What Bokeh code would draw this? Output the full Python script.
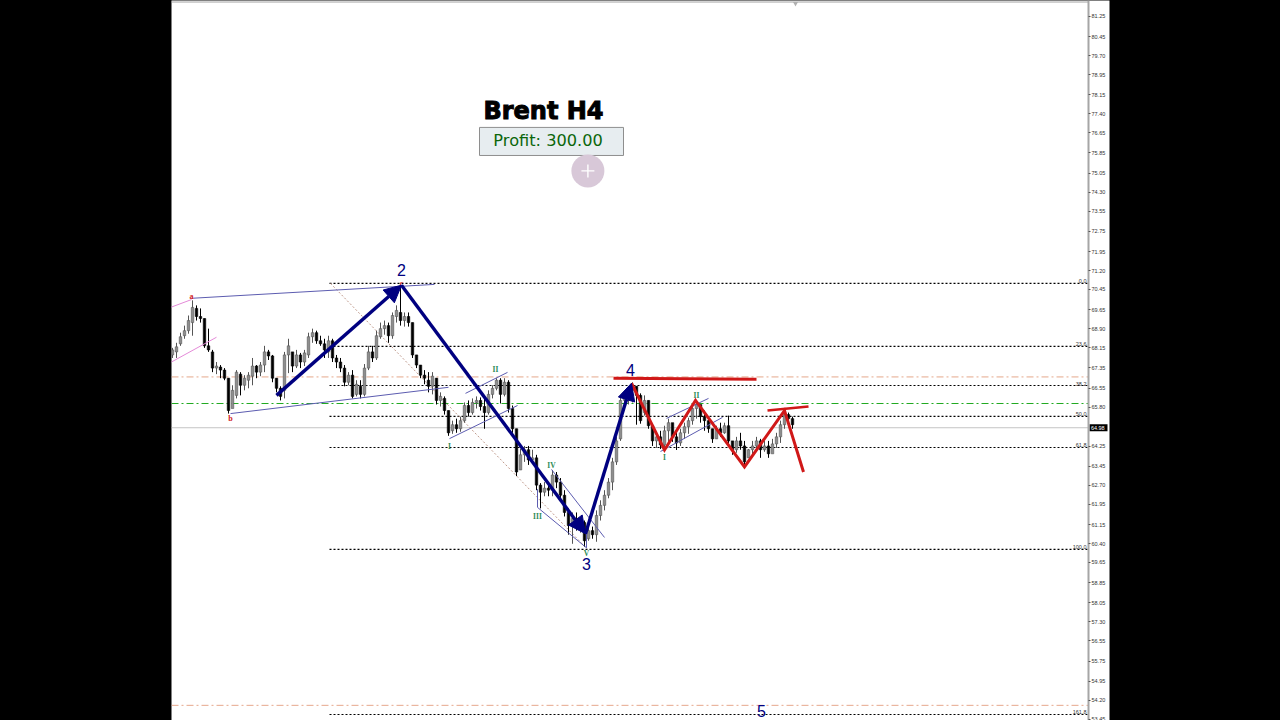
from bokeh.plotting import figure
from bokeh.layouts import row
from bokeh.models import (Range1d, FixedTicker, NumeralTickFormatter, Arrow, NormalHead,
                          Spacer, GlobalInlineStyleSheet, ColumnDataSource)
from bokeh.core.properties import value
from bokeh.embed import file_html
from bokeh.resources import INLINE

high = [68.14,68.34,68.74,69.02,69.42,70.02,69.82,69.70,69.30,68.90,
68.06,67.58,67.46,67.34,66.94,66.66,67.26,67.18,67.06,67.18,
67.74,67.46,67.58,68.22,68.06,67.86,66.94,66.62,67.98,68.50,
67.86,68.06,67.94,68.06,68.74,68.90,68.82,68.62,68.50,68.62,
68.50,67.86,67.74,67.46,67.18,67.26,66.86,66.86,67.50,68.22,
68.22,68.82,69.14,69.22,69.14,69.54,69.82,70.62,69.54,69.54,
69.14,67.86,67.46,67.26,67.18,67.18,66.94,66.38,66.22,65.66,
65.26,65.34,65.42,65.98,66.06,66.14,66.22,66.18,66.14,66.46,
66.66,66.94,66.94,66.94,66.86,65.86,64.94,64.14,64.26,64.26,
64.11,63.91,62.79,62.83,62.75,63.31,63.23,62.99,62.51,61.79,
61.63,61.63,61.39,61.31,61.11,61.07,61.71,62.11,62.51,62.99,
63.79,64.62,66.26,66.38,66.62,66.78,66.62,66.34,66.26,66.06,
65.14,64.78,64.86,65.06,65.34,65.06,64.86,64.94,65.18,65.38,
65.86,66.06,65.86,65.66,65.34,64.94,65.06,65.18,65.18,65.46,
64.38,64.62,64.78,64.46,64.14,64.46,64.62,64.54,64.46,64.46,
64.54,64.78,65.26,65.66,65.58,65.42]
low = [67.74,67.74,68.22,68.50,68.70,68.62,69.22,69.14,68.14,67.98,
67.18,67.10,66.94,66.86,65.54,66.06,66.14,66.26,66.46,66.54,
66.66,66.94,67.02,67.18,67.66,66.78,66.38,66.06,66.14,67.14,
67.18,67.34,67.34,67.42,67.74,68.34,68.30,68.22,67.74,67.74,
67.58,67.34,67.18,66.62,66.66,66.14,66.22,66.14,66.22,67.26,
67.58,67.66,68.50,68.66,68.34,68.50,69.14,69.02,68.98,68.98,
67.74,67.34,66.94,66.70,66.38,66.30,65.90,65.82,65.50,64.66,
64.74,64.78,64.82,65.18,65.42,65.50,65.74,65.66,64.94,65.50,
66.14,66.46,65.94,66.22,65.58,64.78,63.07,63.31,63.63,63.51,
63.55,62.51,61.79,62.27,62.27,62.27,62.59,62.19,61.47,60.75,
60.39,60.91,60.83,60.27,60.51,60.59,60.47,61.31,61.71,62.19,
62.51,63.51,64.46,65.74,65.90,65.98,65.10,65.14,65.46,64.94,
64.26,64.18,64.14,64.22,64.34,64.42,64.10,64.26,64.54,64.74,
65.10,65.34,65.18,64.86,64.78,64.38,64.54,64.62,64.74,64.30,
63.91,63.99,64.11,63.39,63.79,63.91,64.03,63.79,64.03,63.79,
64.11,64.18,64.38,64.94,65.18,64.94]
open_ = [67.86,67.98,68.30,68.62,68.82,69.14,69.70,69.38,69.30,68.22,
67.98,67.34,67.38,67.26,66.94,65.74,66.26,67.10,66.66,66.86,
67.02,67.42,67.18,67.46,67.98,67.82,66.94,66.54,66.46,67.86,
67.98,67.42,67.86,67.58,67.86,68.58,68.74,68.42,68.30,67.98,
68.42,67.74,67.58,67.34,66.78,67.06,66.30,66.62,66.30,67.34,
67.98,67.74,68.58,68.90,69.02,68.62,69.38,69.54,69.22,69.38,
69.14,67.86,67.46,67.06,66.86,66.62,66.94,66.06,66.14,65.66,
64.86,65.10,64.94,65.26,65.86,65.58,65.98,66.06,65.82,65.58,
66.30,66.54,66.86,66.30,66.78,65.74,64.94,63.31,63.91,64.11,
63.71,63.79,62.71,62.43,62.59,62.51,63.11,62.83,62.31,61.63,
61.11,61.39,61.11,61.23,60.59,60.91,60.75,61.51,61.91,62.31,
62.83,63.63,64.54,66.06,66.22,66.46,66.62,66.26,65.58,66.06,
65.06,64.46,64.62,64.30,64.86,65.18,64.62,64.38,64.78,65.02,
65.26,65.74,65.90,65.42,65.26,64.94,64.54,64.94,64.78,65.06,
64.46,64.11,64.46,64.26,63.79,64.11,64.26,64.46,64.11,64.26,
63.95,64.34,64.62,65.10,65.50,65.34]
close = [68.06,68.18,68.58,68.82,69.22,69.74,69.38,69.30,68.22,68.06,
67.34,67.42,67.26,66.94,65.66,66.46,67.18,66.66,66.94,67.06,
67.42,67.18,67.46,67.98,67.82,66.94,66.54,66.22,67.86,68.22,
67.42,67.86,67.58,67.94,68.58,68.74,68.42,68.30,68.06,68.42,
67.74,67.58,67.34,66.78,67.06,66.22,66.70,66.30,67.34,67.98,
67.74,68.62,68.90,69.02,68.62,69.42,69.62,69.22,69.38,69.14,
67.86,67.46,67.06,66.94,66.62,67.02,66.06,66.22,65.66,64.78,
65.10,64.94,65.26,65.86,65.58,65.98,66.06,65.82,65.58,66.30,
66.54,66.86,66.30,66.78,65.74,64.94,63.23,63.91,64.11,63.71,
63.79,62.71,62.43,62.59,62.51,63.11,62.83,62.31,61.63,61.11,
61.39,61.11,61.23,60.51,60.91,60.75,61.51,61.91,62.31,62.83,
63.63,64.46,66.06,66.22,66.46,66.62,66.26,65.26,66.06,65.06,
64.46,64.62,64.30,64.86,65.18,64.62,64.38,64.78,65.02,65.26,
65.74,65.90,65.42,65.26,64.94,64.54,64.94,64.78,65.06,64.46,
64.11,64.46,64.26,63.63,64.11,64.26,64.46,64.11,64.26,63.95,
64.34,64.62,65.10,65.50,65.34,65.10]
bars = list(range(len(close)))

price_ticks = [81.25,80.45,79.70,78.95,78.15,77.40,76.65,75.85,75.05,74.30,73.55,72.75,
               71.95,71.20,70.45,69.65,68.90,68.15,67.35,66.55,65.80,64.25,63.45,62.70,
               61.95,61.15,60.40,59.65,58.85,58.05,57.30,56.55,55.75,54.95,54.20,53.45]
last_price = 64.98

fib_names = ["0.0","23.6","38.2","50.0","61.8","100.0","161.8"]
fib_prices = [70.69,68.20,66.65,65.43,64.20,60.17,53.64]
fib_start = 39.25
orange_levels = [66.99,54.00]
green_level = 65.94
frame_top = 81.82

wave_x = [26.0,57.25,103.25,114.75]
wave_y = [66.26,70.62,60.79,66.74]
wave_names = ["2","3","4","5"]
wave_name_x = [57.25,103.5,114.5,147.25]
wave_name_y = [71.22,59.60,67.27,53.76]

red_x = [114.75,123.0,130.75,143.0,153.0,157.75]
red_y = [66.74,64.10,66.06,63.43,65.66,63.23]
resist_x = [110.25,146.0]
resist_y = [66.94,66.90]
short_x = [148.75,159.0]
short_y = [65.66,65.82]

channels = [
    ([4.75,65.5],[70.10,70.65]),
    ([14.5,69.0],[65.54,66.58]),
    ([69.25,86.25],[64.55,65.86]),
    ([73.25,83.75],[66.34,67.17]),
    ([91.25,103.5],[61.83,60.23]),
    ([94.75,108.0],[63.33,60.64]),
    ([91.25,91.25],[62.55,61.83]),
    ([103.5,103.5],[60.92,60.23]),
    ([123.5,134.0],[65.35,66.14]),
    ([122.0,137.5],[64.04,65.39]),
]
pink = [([-0.5,4.75],[69.74,70.05]),([-0.5,11.0],[67.56,68.56])]
diag_x = [39.5,103.5]
diag_y = [70.69,60.21]

small_red = ["a","b","c"]
small_red_x = [4.75,14.5,57.25]
small_red_y = [70.16,65.35,70.68]
small_green = ["I","II","III","IV","V","I","II"]
small_green_x = [69.25,80.75,91.25,94.75,103.5,123.0,131.0]
small_green_y = [64.25,67.30,61.48,63.50,60.02,63.80,66.25]

title_text = "Brent H4"
profit_text = "Profit: 300.00"

px_left, chart_right, px_right = -0.25, 229.0, 234.25
p = figure(width=963, height=720, output_backend="svg", toolbar_location=None,
           x_range=Range1d(px_left, px_right), y_range=Range1d(53.40, 81.88),
           x_axis_location=None, y_axis_location="right",
           min_border_left=0, min_border_right=25, min_border_top=0, min_border_bottom=0,
           background_fill_color="white", border_fill_color="#000000",
           outline_line_color=None)
p.grid.visible = False

ax = p.yaxis[0]
ax.fixed_location = chart_right
ax.ticker = FixedTicker(ticks=price_ticks)
ax.formatter = NumeralTickFormatter(format="0.00")
ax.major_label_text_font = "Liberation Sans"
ax.major_label_text_font_size = "5.5px"
ax.major_label_text_color = "#333333"
ax.major_tick_out = 2
ax.major_tick_in = 0
ax.minor_tick_out = 0
ax.minor_tick_in = 0
ax.major_tick_line_color = "#555555"
ax.axis_line_color = "#a6a6a6"
ax.axis_line_width = 2
ax.major_label_standoff = 1

p.line([px_left, chart_right], [frame_top, frame_top], color="#a4a4a4", line_width=1)
p.line([px_left, chart_right], [last_price, last_price], color="#c4c4c4", line_width=1)
for lv in orange_levels:
    p.line([px_left, chart_right], [lv, lv], color="#e6a88c", line_width=1, line_dash="7 3 2 3")
p.line([px_left, chart_right], [green_level, green_level], color="#22aa22", line_width=1.2, line_dash="7 3 2 3")
for lv in fib_prices:
    p.line([fib_start, chart_right], [lv, lv], color="#000000", line_width=1.1, line_dash="2 2")
p.line(diag_x, diag_y, color="#c09a8c", line_width=1, line_dash="2 2")

src = ColumnDataSource(dict(
    x=bars, high=high, low=low,
    top=[max(a, b) for a, b in zip(open_, close)],
    bottom=[min(a, b) for a, b in zip(open_, close)],
    color=["#8e8e8e" if c >= o else "#000000" for o, c in zip(open_, close)],
    wick=["#555555" if c >= o else "#000000" for o, c in zip(open_, close)],
))
p.segment("x", "high", "x", "low", source=src, color="wick", line_width=1)
p.vbar("x", top="top", bottom="bottom", width=0.62, source=src, fill_color="color", line_color="wick", line_width=0.6)

for cx, cy in channels:
    p.line(cx, cy, color="#5c5cb0", line_width=1)
for cx, cy in pink:
    p.line(cx, cy, color="#e48ad8", line_width=1)

navy = "#000080"
for i in range(3):
    p.add_layout(Arrow(end=NormalHead(size=17, fill_color=navy, line_color=navy),
                       x_start=wave_x[i], y_start=wave_y[i], x_end=wave_x[i+1], y_end=wave_y[i+1],
                       line_color=navy, line_width=3.4))
red = "#d01818"
p.line(red_x, red_y, color=red, line_width=3, line_join="miter")
p.line(resist_x, resist_y, color=red, line_width=3)
p.line(short_x, short_y, color=red, line_width=2.5)

p.text(wave_name_x, wave_name_y, text=wave_names, text_color=navy, text_font=value("Liberation Sans"),
       text_font_size="16px", text_align="center", text_baseline="middle")
p.text(small_red_x, small_red_y, text=small_red, text_color="#d02020", text_font=value("Liberation Serif"),
       text_font_style="bold", text_font_size="8px", text_align="center", text_baseline="middle")
p.text(small_green_x, small_green_y, text=small_green, text_color="#2e8b57", text_font=value("Liberation Serif"),
       text_font_style="bold", text_font_size="7.5px", text_align="center", text_baseline="middle")
p.text([228.5]*len(fib_prices), fib_prices, text=fib_names, text_color="#333333",
       text_font=value("Liberation Sans"), text_font_size="5.5px", text_align="right", text_baseline="bottom")

p.quad(left=[76.75], right=[112.75], top=[76.86], bottom=[75.75], fill_color="#e7edf0", line_color="#8e8e8e", line_width=1)
p.text([92.75], [77.52], text=[title_text], text_color="#000000", text_font=value("DejaVu Sans"),
       text_font_style="bold", text_font_size="24px", text_align="center", text_baseline="middle",
       text_outline_color="#000000")
p.text([93.9], [76.33], text=[profit_text], text_color="#0b660b", text_font=value("DejaVu Sans"),
       text_font_size="16.2px", text_align="center", text_baseline="middle")

p.scatter([103.85], [75.14], marker="circle", size=33, fill_color="#d8c8d8", line_color=None)
p.scatter([103.85], [75.14], marker="cross", size=13, line_color="#ffffff", line_width=1.4)
p.scatter([155.75], [81.76], marker="inverted_triangle", size=5, fill_color="#b0b0b0", line_color=None)

p.quad(left=[chart_right + 0.25], right=[chart_right + 4.75], top=[last_price + 0.14], bottom=[last_price - 0.14],
       fill_color="#000000", line_color=None)
p.text([chart_right + 0.6], [last_price], text=[f"{last_price:.2f}"], text_color="#ffffff",
       text_font=value("Liberation Sans"), text_font_size="5.5px", text_baseline="middle")

p.stylesheets = [GlobalInlineStyleSheet(css="html,body{margin:0;padding:0;background:#000;overflow:hidden}")]
page = row(Spacer(width=171, height=720), p, spacing=0)
open("out.html", "w").write(file_html(page, INLINE))
